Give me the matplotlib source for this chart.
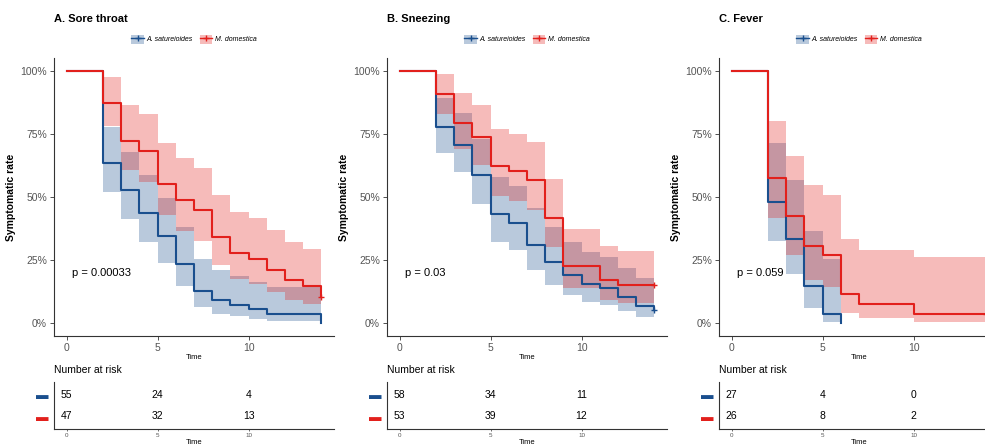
import numpy as np
import matplotlib
matplotlib.use("Agg")
import matplotlib.pyplot as plt
from matplotlib.patches import Patch
from matplotlib.lines import Line2D

plt.rcParams['font.family'] = ['Liberation Sans', 'DejaVu Sans']

BLUE = '#1A4F8E'
RED = '#E2201C'
GREY = '#555555'
AXC = '#333333'

titles = ['A. Sore throat', 'B. Sneezing', 'C. Fever']
pvals = ['p = 0.00033', 'p = 0.03', 'p = 0.059']
groups = ['A. satureioides', 'M. domestica']
risk_times = [0, 5, 10]

# A. Sore throat
a_blue_t = [0, 2, 3, 4, 5, 6, 7, 8, 9, 10, 11, 14]
a_blue_s = [1, 0.636, 0.527, 0.436, 0.345, 0.236, 0.127, 0.091, 0.073, 0.055, 0.036, 0.0]
a_blue_ci_t = [2, 3, 4, 5, 6, 7, 8, 9, 10, 11, 14]
a_blue_lo = [0.521, 0.411, 0.323, 0.240, 0.147, 0.064, 0.039, 0.028, 0.018, 0.009]
a_blue_hi = [0.777, 0.677, 0.589, 0.497, 0.380, 0.254, 0.210, 0.187, 0.164, 0.142]
a_red_t = [0, 2, 3, 4, 5, 6, 7, 8, 9, 10, 11, 12, 13, 14]
a_red_s = [1, 0.872, 0.723, 0.681, 0.553, 0.489, 0.447, 0.340, 0.277, 0.255, 0.213, 0.170, 0.149, 0.106]
a_red_ci_t = [2, 3, 4, 5, 6, 7, 8, 9, 10, 11, 12, 13, 14]
a_red_lo = [0.782, 0.606, 0.560, 0.428, 0.365, 0.325, 0.229, 0.174, 0.157, 0.123, 0.091, 0.075]
a_red_hi = [0.973, 0.863, 0.828, 0.715, 0.655, 0.614, 0.507, 0.439, 0.416, 0.369, 0.320, 0.295]
a_censor = [[], [(14, 0.106)]]
a_risk = [[55, 24, 4], [47, 32, 13]]

# B. Sneezing
b_blue_t = [0, 2, 3, 4, 5, 6, 7, 8, 9, 10, 11, 12, 13, 14]
b_blue_s = [1, 0.776, 0.707, 0.586, 0.431, 0.397, 0.310, 0.241, 0.190, 0.155, 0.138, 0.103, 0.069, 0.052]
b_blue_ci_t = [2, 3, 4, 5, 6, 7, 8, 9, 10, 11, 12, 13, 14]
b_blue_lo = [0.676, 0.599, 0.472, 0.321, 0.289, 0.212, 0.153, 0.111, 0.085, 0.073, 0.049, 0.027]
b_blue_hi = [0.891, 0.834, 0.728, 0.579, 0.545, 0.456, 0.381, 0.323, 0.283, 0.263, 0.221, 0.178]
b_red_t = [0, 2, 3, 4, 5, 6, 7, 8, 9, 11, 12, 14]
b_red_s = [1, 0.906, 0.792, 0.736, 0.623, 0.604, 0.566, 0.415, 0.226, 0.170, 0.151, 0.151]
b_red_ci_t = [2, 3, 4, 5, 6, 7, 8, 9, 11, 12, 14]
b_red_lo = [0.830, 0.691, 0.626, 0.505, 0.486, 0.447, 0.302, 0.138, 0.094, 0.080]
b_red_hi = [0.988, 0.910, 0.865, 0.768, 0.751, 0.717, 0.571, 0.372, 0.308, 0.286]
b_censor = [[(14, 0.052)], [(14, 0.151)]]
b_risk = [[58, 34, 11], [53, 39, 12]]

# C. Fever
c_blue_t = [0, 2, 3, 4, 5, 6]
c_blue_s = [1, 0.481, 0.333, 0.148, 0.037, 0.0]
c_blue_ci_t = [2, 3, 4, 5, 6]
c_blue_lo = [0.326, 0.196, 0.060, 0.005]
c_blue_hi = [0.712, 0.568, 0.366, 0.254]
c_red_t = [0, 2, 3, 4, 5, 6, 7, 10, 14]
c_red_s = [1, 0.577, 0.423, 0.308, 0.269, 0.115, 0.077, 0.038, 0.038]
c_red_ci_t = [2, 3, 4, 5, 6, 7, 10, 14]
c_red_lo = [0.415, 0.270, 0.173, 0.143, 0.040, 0.020, 0.006]
c_red_hi = [0.802, 0.663, 0.548, 0.507, 0.335, 0.291, 0.263]
c_censor = [[], [(14, 0.038)]]
c_risk = [[27, 4, 0], [26, 8, 2]]

panels = [
    [(a_blue_t, a_blue_s, a_blue_ci_t, a_blue_lo, a_blue_hi),
     (a_red_t, a_red_s, a_red_ci_t, a_red_lo, a_red_hi), a_censor, a_risk],
    [(b_blue_t, b_blue_s, b_blue_ci_t, b_blue_lo, b_blue_hi),
     (b_red_t, b_red_s, b_red_ci_t, b_red_lo, b_red_hi), b_censor, b_risk],
    [(c_blue_t, c_blue_s, c_blue_ci_t, c_blue_lo, c_blue_hi),
     (c_red_t, c_red_s, c_red_ci_t, c_red_lo, c_red_hi), c_censor, c_risk],
]

W, H = 985, 447
fig = plt.figure(figsize=(W / 100, H / 100), dpi=100)


def px(l, t, w, h):
    return [l / W, 1 - (t + h) / H, w / W, h / H]


lefts = [54, 387, 719]
colors = [BLUE, RED]

for i, (blue, red, censor, risk) in enumerate(panels):
    ax = fig.add_axes(px(lefts[i], 58, 280, 278))
    for (t, s, ct, lo, hi), col in zip([blue, red], colors):
        ax.fill_between(ct, np.append(lo, lo[-1]), np.append(hi, hi[-1]),
                        step='post', color=col, alpha=0.3, lw=0)
    for (t, s, ct, lo, hi), col in zip([blue, red], colors):
        ax.step(t, s, where='post', color=col, lw=1.5)
    for pts, col in zip(censor, colors):
        for x, y in pts:
            ax.plot(x, y, marker='+', color=col, ms=5, mew=1)

    ax.set_xlim(-0.7, 14.7)
    ax.set_ylim(-0.05, 1.05)
    ax.set_xticks([0, 5, 10])
    ax.set_yticks([0, 0.25, 0.5, 0.75, 1])
    ax.set_yticklabels(['0%', '25%', '50%', '75%', '100%'])
    for sp in ['top', 'right']:
        ax.spines[sp].set_visible(False)
    for sp in ['left', 'bottom']:
        ax.spines[sp].set_color(AXC)
        ax.spines[sp].set_linewidth(0.8)
    ax.tick_params(length=3, width=0.6, color=AXC, labelcolor=GREY, labelsize=7.5, pad=2)
    ax.set_xlabel('Time', fontsize=5.5, labelpad=1)
    ax.set_ylabel('Symptomatic rate', fontsize=7.5, fontweight='bold')
    ax.yaxis.set_label_coords(-0.135, 0.5)
    ax.text(0.28, 0.2, pvals[i], fontsize=8, ha='left', va='center')
    ax.text(0, 1.14, titles[i], transform=ax.transAxes, fontsize=8,
            fontweight='bold', ha='left', va='center')

    handles = [(Patch(facecolor=c, alpha=0.3, edgecolor='none'),
                Line2D([], [], color=c, marker='+', lw=1, ms=4)) for c in colors]
    leg = ax.legend(handles, groups, loc='center', bbox_to_anchor=(0.5, 1.068),
                    ncol=2, frameon=False, prop={'size': 5, 'style': 'italic'},
                    handlelength=1.8, handleheight=1.6, handletextpad=0.4,
                    columnspacing=1.0, borderaxespad=0)

    # risk table
    tb = fig.add_axes(px(lefts[i], 382, 280, 47))
    for row, ypos in zip(risk, [2, 1]):
        for x, n in zip(risk_times, row):
            tb.text(x, ypos, str(n), fontsize=7.5, ha='center', va='center')
    tb.set_xlim(-0.7, 14.7)
    tb.set_ylim(0.4, 2.6)
    tb.set_xticks([0, 5, 10])
    tb.set_yticks([2, 1])
    tb.set_yticklabels(['\u25ac', '\u25ac'], fontsize=9)
    for lab, c in zip(tb.get_yticklabels(), colors):
        lab.set_color(c)
    for sp in ['top', 'right']:
        tb.spines[sp].set_visible(False)
    for sp in ['left', 'bottom']:
        tb.spines[sp].set_color(AXC)
        tb.spines[sp].set_linewidth(0.8)
    tb.tick_params(axis='y', length=0, pad=4)
    tb.tick_params(axis='x', length=1.5, width=0.5, color=AXC, labelcolor=GREY,
                   labelsize=4.5, pad=1.5)
    tb.set_xlabel('Time', fontsize=5.5, labelpad=0.5)
    tb.text(0, 1.25, 'Number at risk', transform=tb.transAxes, fontsize=7.5,
            ha='left', va='center')

fig.savefig('out.png', dpi=100)
